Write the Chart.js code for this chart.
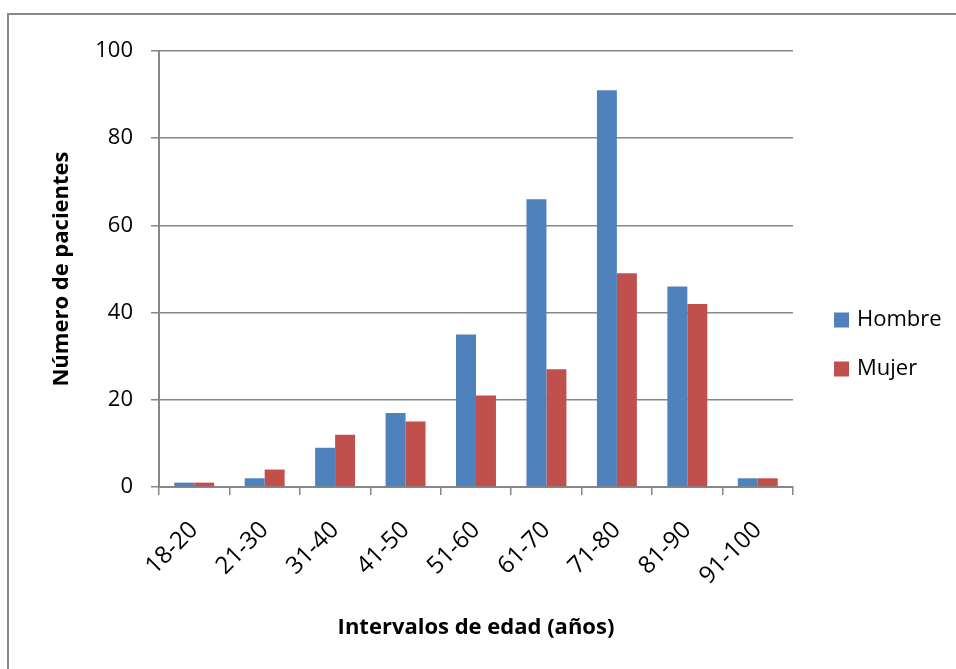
<!DOCTYPE html>
<html>
<head>
<meta charset="utf-8">
<script src="https://cdn.jsdelivr.net/npm/chart.js@4"></script>
<style>
  html, body { margin: 0; padding: 0; background: #ffffff; }
  #wrap { position: relative; width: 956px; height: 669px; overflow: hidden; }
  #frame { position: absolute; left: 7px; top: 13px; width: 1000px; height: 1000px;
           border-left: 2px solid #8a8a8a; border-top: 2px solid #8a8a8a; }
  #chart { position: absolute; left: 0; top: 0; }
</style>
</head>
<body>
<div id="wrap">
  <div id="frame"></div>
  <canvas id="chart" width="956" height="669"></canvas>
</div>
<script>
// Age brackets and patient counts per sex
const categories = ['18-20', '21-30', '31-40', '41-50', '51-60', '61-70', '71-80', '81-90', '91-100'];
const hombre = [1, 2, 9, 17, 35, 66, 91, 46, 2];
const mujer = [1, 4, 12, 15, 21, 27, 49, 42, 2];
const seriesNames = ['Hombre', 'Mujer'];
const yTicks = [0, 20, 40, 60, 80, 100];

const FONT = "'Open Sans', 'Liberation Sans', sans-serif";
const GRID = '#878787';

// Legend drawn to the right of the plot, one square + label per series
const sideLegend = {
  id: 'sideLegend',
  afterDraw(chart) {
    const ctx = chart.ctx;
    const x0 = chart.chartArea.right + 41;
    const yStart = 320;
    const step = 49;
    ctx.save();
    ctx.font = '22px ' + FONT;
    ctx.textBaseline = 'middle';
    ctx.textAlign = 'left';
    chart.data.datasets.forEach((ds, i) => {
      const cy = yStart + i * step;
      ctx.fillStyle = ds.backgroundColor;
      ctx.fillRect(x0, cy - 7.5, 15, 15);
      ctx.fillStyle = '#000000';
      ctx.fillText(ds.label, x0 + 23, cy);
    });
    ctx.restore();
  }
};

new Chart(document.getElementById('chart'), {
  type: 'bar',
  data: {
    labels: categories,
    datasets: [
      { label: seriesNames[0], data: hombre, backgroundColor: '#4F81BD' },
      { label: seriesNames[1], data: mujer, backgroundColor: '#C0504D' }
    ]
  },
  options: {
    responsive: false,
    animation: false,
    layout: { padding: { left: 0, top: 51, right: 163, bottom: 0 } },
    datasets: { bar: { categoryPercentage: 0.567, barPercentage: 1.0, borderWidth: 0 } },
    plugins: {
      legend: { display: false },
      tooltip: { enabled: false }
    },
    scales: {
      x: {
        offset: true,
        afterFit(scale) { scale.height = 182; },
        grid: {
          offset: true,
          drawOnChartArea: false,
          drawTicks: true,
          tickLength: 8,
          color: GRID,
          lineWidth: 1.5
        },
        border: { display: true, color: GRID, width: 2 },
        ticks: {
          minRotation: 45,
          maxRotation: 45,
          padding: 21,
          color: '#000000',
          font: { family: FONT, size: 24 }
        },
        title: {
          display: true,
          text: 'Intervalos de edad (años)',
          color: '#000000',
          font: { family: FONT, size: 22, weight: 'bold' },
          padding: { top: 0, bottom: 28 }
        }
      },
      y: {
        min: 0,
        max: 100,
        afterFit(scale) { scale.width = 159; },
        afterBuildTicks(scale) { scale.ticks = yTicks.map(v => ({ value: v })); },
        grid: {
          drawTicks: true,
          tickLength: 8,
          color: GRID,
          lineWidth: 1.5
        },
        border: { display: true, color: GRID, width: 2 },
        ticks: {
          padding: 18,
          color: '#000000',
          font: { family: FONT, size: 22 }
        },
        title: {
          display: true,
          text: 'Número de pacientes',
          color: '#000000',
          font: { family: FONT, size: 22, weight: 'bold' },
          padding: { top: 49, bottom: 0 }
        }
      }
    }
  },
  plugins: [sideLegend]
});
</script>
</body>
</html>
